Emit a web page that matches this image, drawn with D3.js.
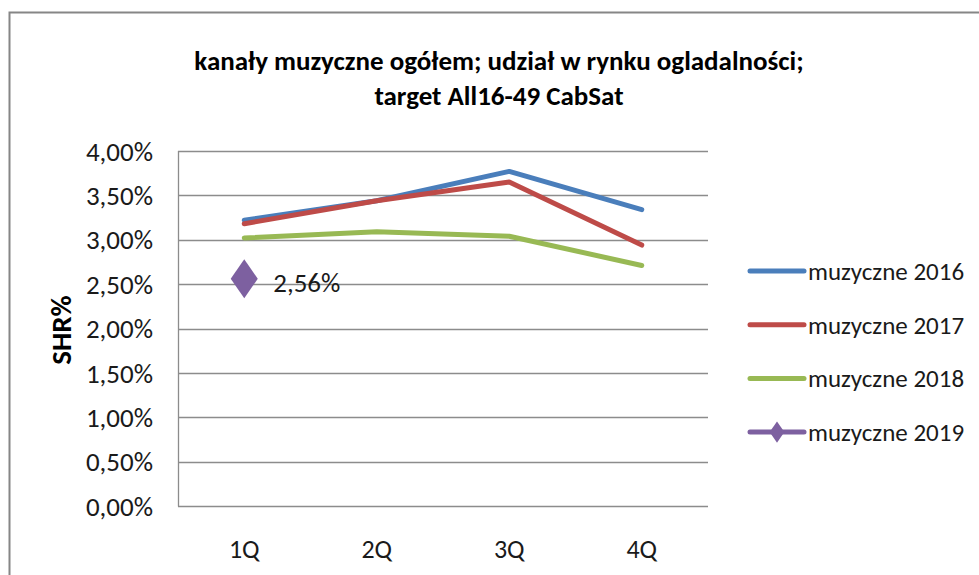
<!DOCTYPE html>
<html><head><meta charset="utf-8">
<script src="https://cdn.jsdelivr.net/npm/d3@7"></script>
<style>body{margin:0;background:#fff}svg{display:block}text{font-family:Carlito,"Open Sans",sans-serif}</style>
</head><body>
<svg id="c" width="979" height="575"></svg>
<script>
const categories = ["1Q","2Q","3Q","4Q"];
const s2016 = [3.22, 3.44, 3.77, 3.34];
const s2017 = [3.18, 3.44, 3.65, 2.94];
const s2018 = [3.02, 3.09, 3.04, 2.71];
const s2019 = [2.56, null, null, null];
const seriesNames = ["muzyczne 2016","muzyczne 2017","muzyczne 2018","muzyczne 2019"];
const colors = ["#4a7ebb","#be4b48","#98b954","#7d60a0"];
const yTicks = [0,0.5,1,1.5,2,2.5,3,3.5,4];
const titleLines = ["kanały muzyczne ogółem; udział w rynku ogladalności;","target All16-49 CabSat"];
const yTitle = "SHR%";

const svg = d3.select("#c");
svg.append("path").attr("d","M9.5,575 V12.5 H979").attr("fill","none").attr("stroke","#868686").attr("stroke-width",2);

const x = d3.scaleBand().domain(categories).range([178,708]);
const y = d3.scaleLinear().domain([0,4]).range([506,151]);

svg.append("g").selectAll("line").data(yTicks).join("line")
  .attr("x1",178).attr("x2",708).attr("y1",d=>Math.round(y(d))+0.5).attr("y2",d=>Math.round(y(d))+0.5)
  .attr("stroke","#8c8c8c").attr("stroke-width",1.3);
svg.append("line").attr("x1",178.5).attr("x2",178.5).attr("y1",151).attr("y2",506.5).attr("stroke","#8c8c8c").attr("stroke-width",1.3);

const fmt = d => d3.format(".2f")(d).replace(".",",")+"%";
svg.append("g").selectAll("text").data(yTicks).join("text")
  .attr("x",153).attr("y",d=>y(d)).attr("dy","0.36em").attr("text-anchor","end")
  .attr("font-size",27).attr("fill","#1a1a1a").text(fmt);

svg.append("g").selectAll("text").data(categories).join("text")
  .attr("x",d=>x(d)+x.bandwidth()/2).attr("y",549).attr("dy","0.36em").attr("text-anchor","middle")
  .attr("font-size",26).attr("fill","#1a1a1a").text(d=>d);

svg.append("text").attr("transform","translate(71,330) rotate(-90)").attr("text-anchor","middle")
  .attr("font-size",29).attr("font-weight","bold").attr("fill","#000").text(yTitle);

svg.append("g").selectAll("text").data(titleLines).join("text")
  .attr("x",499).attr("y",(d,i)=>60+i*35).attr("dy","0.36em").attr("text-anchor","middle")
  .attr("font-size",27).attr("font-weight","bold").attr("fill","#000").text(d=>d);

const all = [s2016,s2017,s2018,s2019];
const line = d3.line().defined(d=>d!=null).x((d,i)=>x(categories[i])+x.bandwidth()/2).y(d=>y(d));
all.slice(0,3).forEach((s,k)=>{
  svg.append("path").attr("d",line(s)).attr("fill","none").attr("stroke",colors[k]).attr("stroke-width",5).attr("stroke-linejoin","round").attr("stroke-linecap","round");
});
const diamond = d3.symbol().type(d3.symbolDiamond).size(440);
s2019.forEach((v,i)=>{
  if(v==null) return;
  const cx = x(categories[i])+x.bandwidth()/2, cy=y(v);
  svg.append("path").attr("d",diamond()).attr("transform",`translate(${cx},${cy}) scale(1.2,1)`).attr("fill",colors[3]);
  svg.append("text").attr("x",cx+29).attr("y",cy+3).attr("dy","0.36em").attr("font-size",27).attr("fill","#1a1a1a").text(fmt(v));
});

const lg = svg.append("g");
seriesNames.forEach((n,k)=>{
  const ly = 271 + k*53.7;
  lg.append("line").attr("x1",750).attr("x2",804).attr("y1",ly).attr("y2",ly).attr("stroke",colors[k]).attr("stroke-width",5).attr("stroke-linecap","round");
  if(k===3) lg.append("path").attr("d",d3.symbol().type(d3.symbolDiamond).size(130)()).attr("transform",`translate(777,${ly}) scale(1.2,1)`).attr("fill",colors[3]);
  lg.append("text").attr("x",808).attr("y",ly).attr("dy","0.36em").attr("font-size",25).attr("fill","#1a1a1a").text(n);
});
</script>
</body></html>
